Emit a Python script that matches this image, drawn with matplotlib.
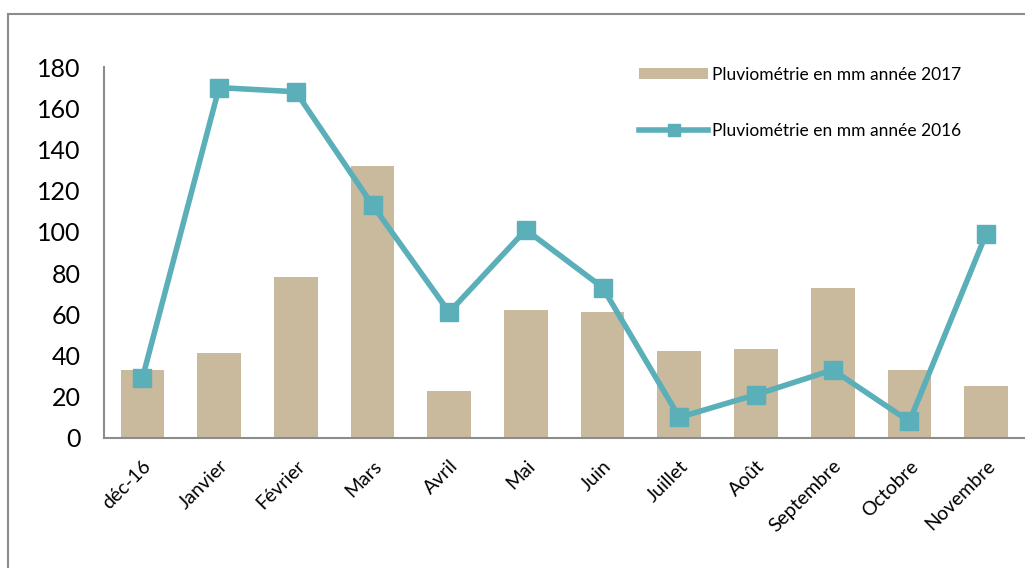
# Pluviométrie 2016 / 2017 : barres + courbe
import matplotlib.pyplot as plt
from matplotlib.lines import Line2D
from matplotlib.patches import Patch

mois = ['déc-16', 'Janvier', 'Février', 'Mars', 'Avril', 'Mai', 'Juin',
        'Juillet', 'Août', 'Septembre', 'Octobre', 'Novembre']
pluie_2017 = [33, 41, 78, 132, 23, 62, 61, 42, 43, 73, 33, 25]
pluie_2016 = [29, 170, 168, 113, 61, 101, 73, 10, 21, 33, 8, 99]
graduations = [0, 20, 40, 60, 80, 100, 120, 140, 160, 180]

couleur_barre = '#C9B99D'
couleur_ligne = '#5AAFB9'

plt.rcParams['font.family'] = ['Lato', 'DejaVu Sans']

fig = plt.figure(figsize=(10.25, 5.68), dpi=100)
ax = fig.add_axes([0.1015, 0.229, 0.898, 0.653])

x = list(range(len(mois)))
ax.bar(x, pluie_2017, width=0.57, color=couleur_barre, zorder=2)
ax.plot(x, pluie_2016, color=couleur_ligne, linewidth=4, marker='s', markersize=13, zorder=3)

ax.set_xlim(-0.5, 11.5)
ax.set_ylim(0, 180)
ax.set_yticks(graduations)
ax.set_yticklabels([str(g) for g in graduations], fontsize=18)
ax.set_xticks(x)
ax.set_xticklabels(mois, rotation=45, ha='right', rotation_mode='anchor', fontsize=14)
ax.tick_params(axis='y', length=0, pad=17)
ax.tick_params(axis='x', length=0, pad=14)

for s in ['top', 'right']:
    ax.spines[s].set_visible(False)
for s in ['left', 'bottom']:
    ax.spines[s].set_color('#8C8C8C')
    ax.spines[s].set_linewidth(1.5)

# légende : barres puis courbe
poignees = [Patch(facecolor=couleur_barre, edgecolor='none'),
            Line2D([], [], color=couleur_ligne, linewidth=4, marker='s', markersize=8)]
ax.legend(poignees, ['Pluviométrie en mm année 2017', 'Pluviométrie en mm année 2016'],
          loc='upper right', bbox_to_anchor=(0.948, 1.042), frameon=False, fontsize=12.5,
          labelspacing=2.3, handlelength=4.0, handleheight=0.6, handletextpad=0.2)

# cadre du graphique
fig.add_artist(Line2D([0.008, 0.008], [0, 0.975], color='#8C8C8C', linewidth=1.5))
fig.add_artist(Line2D([0.008, 1.0], [0.975, 0.975], color='#8C8C8C', linewidth=1.5))

plt.savefig('out.png')
